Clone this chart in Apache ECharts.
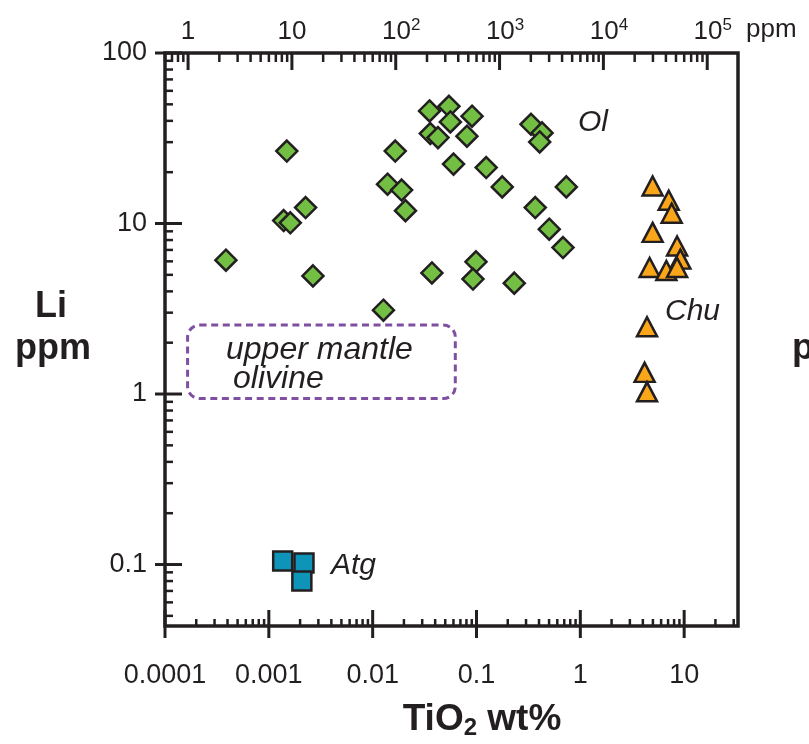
<!DOCTYPE html>
<html>
<head>
<meta charset="utf-8">
<title>Li vs TiO2</title>
<script src="https://cdn.jsdelivr.net/npm/echarts@6/dist/echarts.min.js"></script>
<style>
  html, body { margin: 0; padding: 0; background: #fff; }
  #main { width: 809px; height: 744px; }
</style>
</head>
<body>
<div id="main"></div>
<script>
// olivine (Ol) - [TiO2 wt%, Li ppm]
const olivine = [
  [3.86e-4, 6.09], [1.49e-3, 26.6], [1.39e-3, 10.4], [1.61e-3, 10.1],
  [2.26e-3, 12.4], [2.66e-3, 4.93], [0.0127, 3.10], [0.0165, 26.6],
  [0.0139, 17.0], [0.0190, 15.7], [0.0207, 11.9], [0.0353, 45.7],
  [0.0543, 48.7], [0.0906, 42.6], [0.0560, 39.4], [0.0359, 33.7],
  [0.0426, 31.9], [0.0809, 32.5], [0.0601, 22.3], [0.124, 21.3],
  [0.177, 16.4], [0.335, 38.2], [0.428, 34.0], [0.406, 30.1],
  [0.733, 16.4], [0.368, 12.4], [0.502, 9.26], [0.681, 7.23],
  [0.0989, 5.96], [0.0925, 4.72], [0.231, 4.47], [0.0372, 5.13]
];
// Ti-clinohumite / chondrodite (Chu)
const chondrodite = [
  [4.97, 16.6], [7.10, 13.7], [7.58, 11.5], [4.97, 8.87],
  [8.55, 7.38], [9.19, 6.18], [4.65, 5.52], [6.74, 5.30],
  [8.55, 5.52], [4.39, 2.48], [4.16, 1.34], [4.39, 1.03]
];
// antigorite (Atg)
const antigorite = [[1.36e-3, 0.105], [2.18e-3, 0.102], [2.08e-3, 0.080]];

// upper mantle olivine field (TiO2 range, Li range)
const mantleTiO2 = [1.65e-4, 0.0625];
const mantleLi = [0.94, 2.54];

// axis ranges and tick labels
const X_MIN = 0.0001, X_MAX = 33;
const Y_MIN = 0.0436, Y_MAX = 100;
const TI_PPM = 5995; // ppm Ti per wt% TiO2
const xTicks = [0.0001, 0.001, 0.01, 0.1, 1, 10];
const xTickLabels = ['0.0001', '0.001', '0.01', '0.1', '1', '10'];
const yTicks = [0.1, 1, 10, 100];
const yTickLabels = ['0.1', '1', '10', '100'];
const ppmTicks = [1, 10, 100, 1000, 10000, 100000];
const ppmTickLabels = ['1', '10', '{pad| }10{sup|2}', '{pad| }10{sup|3}', '{pad| }10{sup|4}', '{pad| }10{sup|5}'];

const INK = '#231f20';
const FONT = 'Liberation Sans';

function labelFor(ticks, labels) {
  return function (v) {
    const i = ticks.findIndex(t => Math.abs(Math.log10(t) - Math.log10(v)) < 1e-6);
    return i < 0 ? '' : labels[i];
  };
}

function minors(lo, hi) {
  const out = [];
  for (let e = Math.floor(Math.log10(lo)); e <= Math.ceil(Math.log10(hi)); e++) {
    for (let m = 2; m <= 9; m++) {
      const v = m * Math.pow(10, e);
      if (v > lo * 1.0001 && v < hi * 0.9999) out.push(v);
    }
  }
  return out;
}

// tick marks: [x, y, side, major]  side 0 = left, 1 = bottom, 2 = top
const tickData = [];
yTicks.forEach(v => tickData.push([X_MIN, v, 0, 1]));
minors(Y_MIN, Y_MAX).forEach(v => tickData.push([X_MIN, v, 0, 0]));
xTicks.forEach(v => tickData.push([v, Y_MIN, 1, 1]));
minors(X_MIN, X_MAX).forEach(v => tickData.push([v, Y_MIN, 1, 0]));
ppmTicks.forEach(v => tickData.push([v / TI_PPM, Y_MAX, 2, 1]));
minors(X_MIN * TI_PPM, X_MAX * TI_PPM).forEach(v => tickData.push([v / TI_PPM, Y_MAX, 2, 0]));

const myChart = echarts.init(document.getElementById('main'));

const symbolStyle = (color) => ({ color: color, borderColor: INK, borderWidth: 2.5, opacity: 1 });

const option = {
  animation: false,
  textStyle: { fontFamily: FONT },
  grid: {
    left: 165, right: 71, top: 53, bottom: 118,
    show: true, borderColor: INK, borderWidth: 3.5,
    outerBoundsMode: 'none'
  },
  xAxis: [
    {
      type: 'log', min: X_MIN, max: X_MAX, position: 'bottom',
      axisLine: { show: false }, axisTick: { show: false }, splitLine: { show: false },
      axisLabel: {
        color: INK, fontSize: 27, fontFamily: FONT, lineHeight: 27, margin: 36,
        showMaxLabel: false, formatter: labelFor(xTicks, xTickLabels)
      }
    },
    {
      type: 'log', min: X_MIN * TI_PPM, max: X_MAX * TI_PPM, position: 'top',
      axisLine: { show: false }, axisTick: { show: false }, splitLine: { show: false },
      axisLabel: {
        color: INK, fontSize: 26, fontFamily: FONT, lineHeight: 30, margin: 6,
        showMinLabel: false, showMaxLabel: false,
        formatter: labelFor(ppmTicks, ppmTickLabels),
        rich: {
          sup: { fontSize: 17, fontFamily: FONT, color: INK, verticalAlign: 'top', lineHeight: 22 },
          pad: { width: 11, fontSize: 17 }
        }
      }
    }
  ],
  yAxis: {
    type: 'log', min: Y_MIN, max: Y_MAX,
    axisLine: { show: false }, axisTick: { show: false }, splitLine: { show: false },
    axisLabel: {
      color: INK, fontSize: 27, fontFamily: FONT, margin: 18,
      showMinLabel: false, formatter: labelFor(yTicks, yTickLabels)
    }
  },
  series: [
    {
      // upper mantle olivine field
      type: 'custom', silent: true, z: 1,
      dimensions: ['x0', 'y0', 'x1', 'y1'],
      encode: { x: [0, 2], y: [1, 3] },
      data: [[mantleTiO2[0], mantleLi[0], mantleTiO2[1], mantleLi[1]]],
      renderItem: function (params, api) {
        const a = api.coord([api.value(0), api.value(3)]);
        const b = api.coord([api.value(2), api.value(1)]);
        return {
          type: 'rect',
          shape: { x: a[0], y: a[1], width: b[0] - a[0], height: b[1] - a[1], r: 12 },
          style: { fill: 'none', stroke: '#7f4fa1', lineWidth: 3, lineDash: [7, 4.6] }
        };
      }
    },
    {
      name: 'Ol', type: 'scatter', symbol: 'diamond', symbolSize: 21, z: 3,
      itemStyle: symbolStyle('#72bf44'), data: olivine
    },
    {
      name: 'Chu', type: 'scatter', symbol: 'triangle', symbolSize: [20, 19], z: 3,
      itemStyle: symbolStyle('#faa61a'), data: chondrodite
    },
    {
      name: 'Atg', type: 'scatter', symbol: 'rect', symbolSize: 19, z: 3,
      itemStyle: symbolStyle('#0e94b9'), data: antigorite
    },
    {
      // log-axis tick marks (majors and 2..9 minors)
      type: 'custom', silent: true, z: 5,
      dimensions: ['x', 'y', 'side', 'major'],
      encode: { x: 0, y: 1 },
      data: tickData,
      renderItem: function (params, api) {
        const p = api.coord([api.value(0), api.value(1)]);
        const side = api.value(2), major = api.value(3);
        let shape;
        if (side === 0) {
          shape = { x1: p[0] - (major ? 10 : 0), y1: p[1], x2: p[0] + (major ? 17 : 8), y2: p[1] };
        } else if (side === 1) {
          shape = { x1: p[0], y1: p[1] + (major ? 12 : 0), x2: p[0], y2: p[1] - (major ? 16 : 7) };
        } else {
          shape = { x1: p[0], y1: p[1], x2: p[0], y2: p[1] + (major ? 17 : 9) };
        }
        return { type: 'line', shape: shape, style: { stroke: INK, lineWidth: major ? 3 : 2.5 } };
      }
    }
  ],
  graphic: [
    { type: 'text', left: 746, top: 17, style: { text: 'ppm', fontSize: 26, fontFamily: FONT, fill: INK } },
    { type: 'text', x: 578, y: 123, style: { text: 'Ol', fontSize: 30, fontStyle: 'italic', fontFamily: FONT, fill: INK, verticalAlign: 'middle' } },
    { type: 'text', x: 665, y: 312, style: { text: 'Chu', fontSize: 30, fontStyle: 'italic', fontFamily: FONT, fill: INK, verticalAlign: 'middle' } },
    { type: 'text', x: 331, y: 566, style: { text: 'Atg', fontSize: 30, fontStyle: 'italic', fontFamily: FONT, fill: INK, verticalAlign: 'middle' } },
    { type: 'text', x: 226, y: 350, style: { text: 'upper mantle', fontSize: 32, fontStyle: 'italic', fontFamily: FONT, fill: INK, verticalAlign: 'middle' } },
    { type: 'text', x: 233, y: 379, style: { text: 'olivine', fontSize: 32, fontStyle: 'italic', fontFamily: FONT, fill: INK, verticalAlign: 'middle' } },
    { type: 'text', x: 51, y: 307, style: { text: 'Li', fontSize: 36, fontWeight: 'bold', fontFamily: FONT, fill: INK, align: 'center', verticalAlign: 'middle' } },
    { type: 'text', x: 53, y: 349, style: { text: 'ppm', fontSize: 36, fontWeight: 'bold', fontFamily: FONT, fill: INK, align: 'center', verticalAlign: 'middle' } },
    { type: 'text', x: 792, y: 349, style: { text: 'ppm', fontSize: 36, fontWeight: 'bold', fontFamily: FONT, fill: INK, verticalAlign: 'middle' } },
    {
      type: 'text', x: 482, y: 720,
      style: {
        text: 'TiO{sub|2} wt%', fontSize: 37, fontWeight: 'bold', fontFamily: FONT, fill: INK,
        align: 'center', verticalAlign: 'middle', lineHeight: 40,
        rich: { sub: { fontSize: 24, fontWeight: 'bold', fontFamily: FONT, fill: INK, verticalAlign: 'bottom', lineHeight: 14 } }
      }
    }
  ]
};

myChart.setOption(option);
</script>
</body>
</html>
